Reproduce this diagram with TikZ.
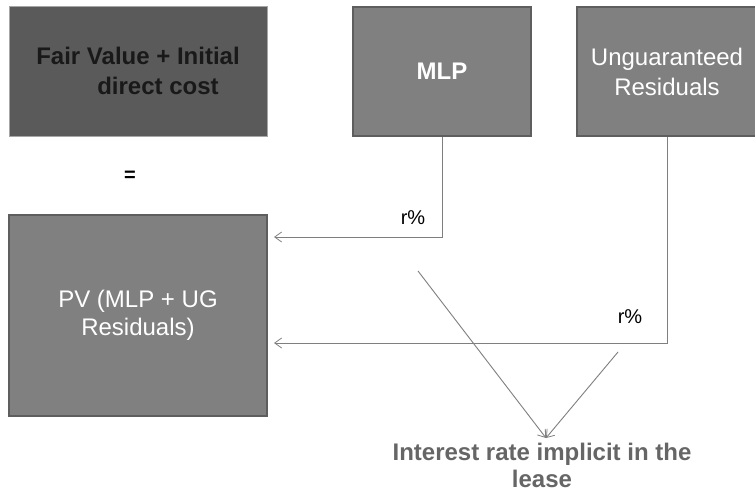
\documentclass[tikz,border=0pt]{standalone}
\usepackage{fontspec}
\setmainfont{Liberation Sans}
\usetikzlibrary{arrows.meta}
\definecolor{darkbox}{HTML}{5A5A5A}
\definecolor{midbox}{HTML}{808080}
\definecolor{boxedge}{HTML}{5E5E5E}
\definecolor{lineclr}{HTML}{7F7F7F}
\definecolor{labelgray}{HTML}{666666}
\tikzset{
  bigtext/.style={font=\fontsize{24}{28}\selectfont},
  box/.style={draw=boxedge, line width=1.6pt, fill=midbox, inner sep=0pt, bigtext, text=white, align=center},
  conn/.style={draw=lineclr, line width=0.9pt, -{Straight Barb[length=7pt, width=10pt, line width=0.8pt]}},
  rlabel/.style={font=\fontsize{20}{24}\selectfont, text=black}
}
\begin{document}
\begin{tikzpicture}[x=1pt, y=-1pt]
\useasboundingbox (0,0) rectangle (755,492);
\fill[white] (0,0) rectangle (755,492);

% top row
\node[box, draw=gray!70, line width=0.8pt, fill=darkbox, text=black!90, font=\fontsize{24}{30}\selectfont\bfseries,
      minimum width=258pt, minimum height=130pt, align=left] (fv) at (138,71)
      {Fair Value + Initial\\\hspace*{61pt}direct cost};
\node[box, minimum width=178pt, minimum height=129pt, font=\fontsize{24}{28}\selectfont\bfseries] (mlp) at (442,71.5) {MLP};
\node[box, minimum width=180pt, minimum height=129pt, font=\fontsize{24}{30}\selectfont] (ug) at (667,71.5) {Unguaranteed\\Residuals};

% equals sign
\node[font=\fontsize{20}{24}\selectfont\bfseries] (eq) at (130,176) {=};

% present value box
\node[box, minimum width=258pt, minimum height=201pt] (pv) at (138,315.5) {PV (MLP + UG\\Residuals)};

% arrow end points next to the PV box
\coordinate (t1) at (274,237);
\coordinate (t2) at (274,343);

\draw[conn] (mlp.south) |- (t1);
\draw[conn] (ug.south) |- (t2);
\node[rlabel] (r1) at (413,218) {r\%};
\node[rlabel] (r2) at (630,317) {r\%};

% converging arrows to the rate
\coordinate (d1) at (418,271);
\coordinate (d2) at (618,352);
\coordinate (tip) at (546,438);
\draw[conn] (d1) -- (tip);
\draw[conn] (d2) -- (tip);

\node[font=\fontsize{24}{27}\selectfont\bfseries, text=labelgray, align=center, anchor=north] (rate) at (542,440)
  {Interest rate implicit in the\\lease};
\end{tikzpicture}
\end{document}
